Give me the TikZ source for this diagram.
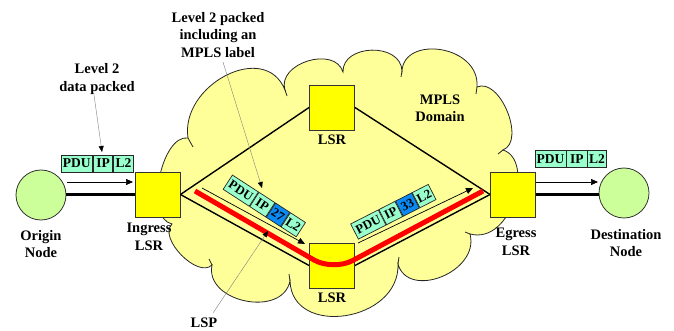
\documentclass[tikz,border=0pt]{standalone}
\usepackage{fontspec}
\setmainfont{Liberation Serif}
\usetikzlibrary{arrows.meta,calc}
\definecolor{cloudfill}{HTML}{FFFF99}
\definecolor{lsrfill}{HTML}{FFFF00}
\definecolor{nodefill}{HTML}{CCFF99}
\definecolor{cellfill}{HTML}{99FFCC}
\definecolor{labelfill}{HTML}{0A8AF5}
\definecolor{lspred}{HTML}{FF0000}
\begin{document}
\begin{tikzpicture}[x=1pt,y=-1pt,
  txt/.style={font=\fontsize{14.5}{17.5}\selectfont\bfseries, align=center, inner sep=0pt},
  lsrbox/.style={draw=black!80, line width=0.9pt, fill=lsrfill, minimum size=45pt, inner sep=0pt},
  endnode/.style={circle, draw=black!80, line width=0.8pt, fill=nodefill, minimum size=50pt, inner sep=0pt},
  cell/.style={draw=black!85, line width=0.7pt, fill=cellfill, minimum height=17pt, inner sep=0pt, font=\fontsize{13.5}{14}\selectfont\bfseries, anchor=west},
  rcell/.style={cell, font=\fontsize{12.8}{14}\selectfont\bfseries},
  lblcell/.style={rcell, fill=labelfill},
  link/.style={line width=1.4pt, black},
  thicklink/.style={line width=2.6pt, black},
  flow/.style={line width=0.7pt, -{Triangle[length=7pt,width=6pt]}},
  leader/.style={line width=0.4pt, draw=black!50, -{Triangle[length=6pt,width=5pt,black]}},
  lsp/.style={line width=5pt, lspred, rounded corners=22pt},
  cloudline/.style={draw=black!85, line width=0.8pt}
]
\useasboundingbox (0,0) rectangle (674,331);

% cloud
\path[fill=cloudfill, cloudline] (172,224)
 .. controls (143.7,217.9) and (161.7,133.9) .. (188,138)
 .. controls (180,85) and (265,40) .. (285,90)
 .. controls (276.7,63.3) and (334.7,45.3) .. (343,72)
 .. controls (342,44) and (401,42) .. (402,71)
 .. controls (404,35) and (480,45) .. (477,87)
 .. controls (500,77) and (526,141) .. (503,150)
 .. controls (535,160) and (512,245) .. (470,234)
 .. controls (480,272) and (408,300) .. (398,264)
 .. controls (400,322) and (292,338) .. (290,281)
 .. controls (282.4,318.2) and (204.4,302.2) .. (212,265)
 .. controls (197.7,279) and (157.7,238) .. (172,224) -- cycle;
\draw[cloudline] (188,138) -- (193,147);
\draw[cloudline] (285,90) -- (287,96);
\draw[cloudline] (402,71) -- (401,77);
\draw[cloudline] (477,87) -- (476,94);
\draw[cloudline] (503,150) -- (498,154);
\draw[cloudline] (470,234) -- (465,232);
\draw[cloudline] (398,264) -- (399,257);
\draw[cloudline] (290,281) -- (289,274);
\draw[cloudline] (212,265) -- (209,259);

% nodes
\node[endnode] (origin) at (41,195) {};
\node[lsrbox] (ingress) at (157.5,194.5) {};
\node[lsrbox] (lsrtop) at (332,107.5) {};
\node[lsrbox] (lsrbot) at (332,265.5) {};
\node[lsrbox] (egress) at (513,194.5) {};
\node[endnode] (dest) at (624,193) {};

% links
\draw[thicklink] (origin.east |- ingress.west) -- (ingress.west);
\draw[thicklink] (egress.east) -- (egress.east -| dest.west);
\draw[link] (ingress.east) -- (lsrtop.west);
\draw[link] (lsrtop.east) -- (egress.west);
\draw[link] (ingress.east) -- (lsrbot.west);
\draw[link] (lsrbot.east) -- (egress.west);

% LSP
\coordinate (lspA) at (195,191);
\coordinate (lspB) at (333,271);
\coordinate (lspC) at (483,191);
\draw[lsp] (lspA) -- (lspB) -- (lspC);

% flow arrows
\coordinate (f0s) at (67,182); \coordinate (f0e) at (133,182);
\coordinate (f1s) at (202,188); \coordinate (f1e) at (305,244);
\coordinate (f2s) at (358,243); \coordinate (f2e) at (473,188);
\coordinate (f3s) at (536,182); \coordinate (f3e) at (598,182);
\draw[flow] (f0s) -- (f0e);
\draw[flow] (f1s) -- (f1e);
\draw[flow] (f2s) -- (f2e);
\draw[flow] (f3s) -- (f3e);

% packets
\node[cell, minimum width=31.6pt] (pa1) at (60.7,163.5) {PDU};
\node[cell, minimum width=19.4pt] (pa2) at (pa1.east) {IP};
\node[cell, minimum width=20pt] (pa3) at (pa2.east) {L2};

\node[cell, minimum width=30.5pt] (pd1) at (535,159) {PDU};
\node[cell, minimum width=20.5pt] (pd2) at (pd1.east) {IP};
\node[cell, minimum width=18.5pt] (pd3) at (pd2.east) {L2};

\node[rcell, rotate=-33, minimum width=31pt] (pb1) at (227.5,182) {PDU};
\node[rcell, rotate=-33, minimum width=19pt] (pb2) at (pb1.east) {IP};
\node[lblcell, rotate=-33, minimum width=17pt] (pb3) at (pb2.east) {27};
\node[rcell, rotate=-33, minimum width=18pt] (pb4) at (pb3.east) {L2};

\node[rcell, rotate=27, minimum width=31pt] (pc1) at (354.2,231.7) {PDU};
\node[rcell, rotate=27, minimum width=18pt] (pc2) at (pc1.east) {IP};
\node[lblcell, rotate=27, minimum width=18pt] (pc3) at (pc2.east) {33};
\node[rcell, rotate=27, minimum width=18pt] (pc4) at (pc3.east) {L2};

% labels
\node[txt] (lblL2) at (97,79) {Level 2\\data packed};
\node[txt] (lblMPLSl) at (218,35) {Level 2 packed\\including an\\MPLS label};
\node[txt] (lbldom) at (440,108.5) {MPLS\\Domain};
\node[txt] (lbltop) at (332,140) {LSR};
\node[txt] (lblbot) at (332,298) {LSR};
\node[txt] (lblin) at (149,237) {Ingress\\LSR};
\node[txt] (lblorig) at (41,244) {Origin\\Node};
\node[txt] (lbleg) at (516,242) {Egress\\LSR};
\node[txt] (lbldest) at (626,243) {Destination\\Node};
\node[txt] (lbllsp) at (204,323) {LSP};

% leaders
\coordinate (ld1s) at (94,95); \coordinate (ld1e) at (102,152);
\coordinate (ld2s) at (223,62); \coordinate (ld2e) at (262,188);
\coordinate (ld3s) at (213,313); \coordinate (ld3e) at (268,231);
\draw[leader] (ld1s) -- (ld1e);
\draw[leader] (ld2s) -- (ld2e);
\draw[leader] (ld3s) -- (ld3e);
\end{tikzpicture}
\end{document}
